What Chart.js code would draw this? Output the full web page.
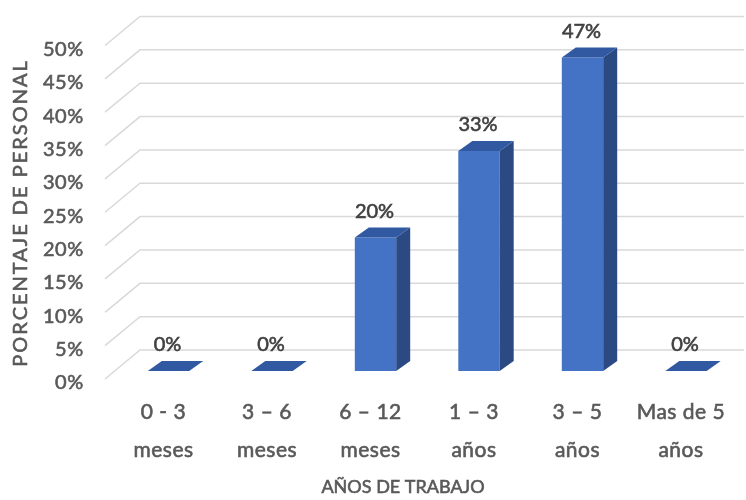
<!DOCTYPE html>
<html>
<head>
<meta charset="utf-8">
<script src="https://cdn.jsdelivr.net/npm/chart.js@4/dist/chart.umd.min.js"></script>
<style>
  html, body { margin: 0; padding: 0; background: #fff; }
  #wrap { width: 746px; height: 500px; }
</style>
</head>
<body>
<div id="wrap"><canvas id="chart"></canvas></div>
<script>
const categories = [
  ["0 - 3", "meses"],
  ["3 \u2013 6", "meses"],
  ["6 \u2013 12", "meses"],
  ["1 \u2013 3", "a\u00f1os"],
  ["3 \u2013 5", "a\u00f1os"],
  ["Mas de 5", "a\u00f1os"]
];
const percentages = [0, 0, 20, 33, 47, 0];
const yTicks = [0, 5, 10, 15, 20, 25, 30, 35, 40, 45, 50];

const FONT = "Lato, 'DejaVu Sans', sans-serif";
const TEXT = "#595959";
const DEPTH_X = 14, DEPTH_Y = 10;

function heavyText(ctx, s, x, y, color) {
  ctx.fillStyle = color;
  ctx.strokeStyle = color;
  ctx.lineWidth = 0.6;
  ctx.fillText(s, x, y);
  ctx.strokeText(s, x, y);
}

// back wall grid, 3d faces of the bars, value labels, axis titles
const threeD = {
  id: "threeD",
  beforeDraw(chart) {
    chart.ctx.letterSpacing = "0.5px";
  },
  beforeDatasetsDraw(chart) {
    const ctx = chart.ctx;
    const y = chart.scales.y;
    ctx.save();
    ctx.strokeStyle = "#d9d9d9";
    ctx.lineWidth = 1.5;
    yTicks.forEach(v => {
      const py = y.getPixelForValue(v);
      ctx.beginPath();
      ctx.moveTo(105, py + 8);
      ctx.lineTo(140, py - 21);
      ctx.lineTo(744, py - 21);
      ctx.stroke();
    });
    ctx.restore();
  },
  afterDatasetsDraw(chart) {
    const ctx = chart.ctx;
    const meta = chart.getDatasetMeta(0);
    ctx.save();
    meta.data.forEach((bar, i) => {
      const w = bar.width;
      const l = bar.x - w / 2, r = bar.x + w / 2;
      const top = bar.y, base = bar.base;
      // side
      ctx.fillStyle = "#2b4a83";
      ctx.beginPath();
      ctx.moveTo(r, top);
      ctx.lineTo(r + DEPTH_X, top - DEPTH_Y);
      ctx.lineTo(r + DEPTH_X, base - DEPTH_Y);
      ctx.lineTo(r, base);
      ctx.closePath();
      ctx.fill();
      // top
      ctx.fillStyle = "#3159a2";
      ctx.beginPath();
      ctx.moveTo(l, top);
      ctx.lineTo(l + DEPTH_X, top - DEPTH_Y);
      ctx.lineTo(r + DEPTH_X, top - DEPTH_Y);
      ctx.lineTo(r, top);
      ctx.closePath();
      ctx.fill();
      // value label
      ctx.letterSpacing = "0px";
      ctx.font = "20px " + FONT;
      ctx.textAlign = "center";
      ctx.textBaseline = "middle";
      heavyText(ctx, percentages[i] + "%", bar.x - 1, top - 26, "#404040");
    });

    ctx.letterSpacing = "0px";
    ctx.font = "18px " + FONT;
    ctx.textAlign = "center";
    ctx.textBaseline = "middle";
    heavyText(ctx, "A\u00d1OS DE TRABAJO", 403, 487, TEXT);

    ctx.translate(21, 213);
    ctx.rotate(-Math.PI / 2);
    ctx.font = "20px " + FONT;
    ctx.letterSpacing = "2px";
    heavyText(ctx, "PORCENTAJE DE PERSONAL", 0, 0, TEXT);
    ctx.restore();
  }
};

function initChart() {
  const ctx = document.getElementById("chart");
  new Chart(ctx, {
    type: "bar",
    data: {
      labels: categories,
      datasets: [{
        data: percentages,
        backgroundColor: "#4472c4",
        borderWidth: 0,
        barPercentage: 0.4,
        categoryPercentage: 1
      }]
    },
    options: {
      responsive: true,
      maintainAspectRatio: false,
      animation: false,
      layout: { padding: { top: 37.5, right: 8.25, left: 0, bottom: 0 } },
      plugins: { legend: { display: false }, tooltip: { enabled: false } },
      scales: {
        x: {
          grid: { display: false, drawTicks: false },
          border: { display: false },
          ticks: {
            color: TEXT,
            textStrokeColor: TEXT,
            textStrokeWidth: 0.6,
            font: { family: FONT, size: 21, lineHeight: 38 / 21 },
            padding: 22,
            labelOffset: -5,
            maxRotation: 0,
            autoSkip: false
          },
          afterFit(s) { s.height = 129; s.paddingLeft = 0; s.paddingRight = 0; }
        },
        y: {
          min: 0,
          max: 50,
          grid: { display: false, drawTicks: false },
          border: { display: false },
          afterBuildTicks(s) { s.ticks = yTicks.map(v => ({ value: v })); },
          ticks: {
            color: TEXT,
            textStrokeColor: TEXT,
            textStrokeWidth: 0.6,
            font: { family: FONT, size: 20 },
            padding: 33,
            labelOffset: 12,
            callback: v => v + "%"
          },
          afterFit(s) { s.width = 116.75; s.paddingTop = 0; s.paddingBottom = 0; }
        }
      }
    },
    plugins: [threeD]
  });
}

window.onload = () => {
  initChart();
};
</script>
</body>
</html>
